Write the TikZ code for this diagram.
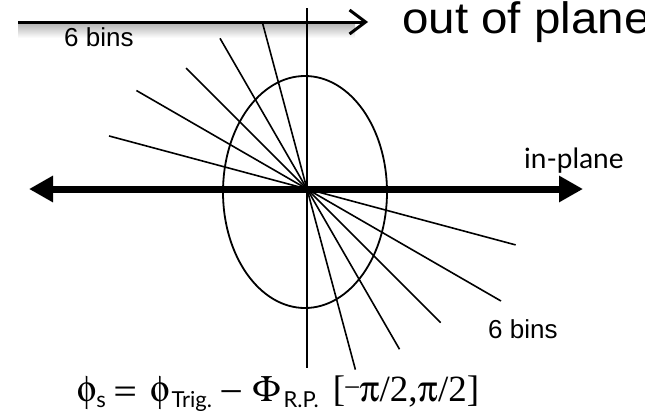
\documentclass[tikz,border=0pt]{standalone}
\usepackage{fontspec}
\usepackage{graphicx}
\setmainfont{Liberation Serif}
\newfontfamily\arialfont{Liberation Sans}
\newfontfamily\gillfont{Lato}
\usetikzlibrary{arrows.meta}

\newcommand{\symb}[1]{{\usefont{U}{psy}{m}{n}#1}}
\newcommand{\subgill}[1]{\raisebox{-6pt}{\gillfont\fontsize{22}{22}\selectfont #1}}

\begin{document}
\begin{tikzpicture}[x=1pt,y=-1pt,
    thinline/.style={line width=1.6pt},
    lbl/.style={inner sep=0pt, anchor=base west}]
    \useasboundingbox (0,0) rectangle (645,418);

    % Center of the bins
    \coordinate (O) at (307,189);

    % Out of plane arrow, with its shadow
    \coordinate (outStart) at (18,22);
    \coordinate (outEnd) at (368,22);
    \shade[top color=black!30, bottom color=white] (18,23) rectangle (355,38);
    \draw[line width=3pt, -{Straight Barb[length=16pt,width=24pt]}] (outStart) -- (outEnd);
    \node[lbl, font=\arialfont\fontsize{44}{44}\selectfont] (outLbl) at (402,33) {\scalebox{1.08}[1]{out of plane}};

    % In-plane arrow
    \coordinate (inLeft) at (29,189);
    \coordinate (inRight) at (583,189);
    \draw[line width=7pt, {Triangle[length=24pt,width=25pt]}-{Triangle[length=24pt,width=25pt]}] (inLeft) -- (inRight);
    \node[lbl, font=\gillfont\fontsize{28}{28}\selectfont] (inLbl) at (524,168) {in-plane};

    % Vertical axis
    \coordinate (vTop) at (307,8);
    \coordinate (vBot) at (307,368);
    \draw[thinline] (vTop) -- (vBot);

    % Ellipse
    \draw[line width=1.8pt] (305,192) ellipse [x radius=82, y radius=116];

    % Bin edges, 15 degrees apart
    \foreach \a/\r in {105/171,120/174,135/171,150/197,165/205,-15/216,-30/224,-45/189,-60/185,-75/187} {
        \draw[thinline] (O) -- ++(\a:\r pt);
    }

    % Bin labels
    \node[lbl, font=\arialfont\fontsize{26}{26}\selectfont] (binsTop) at (64,46) {6 bins};
    \node[lbl, font=\arialfont\fontsize{26}{26}\selectfont] (binsBot) at (488,338) {6 bins};

    % Definition of phi_s
    \node[lbl, font=\fontsize{37}{37}\selectfont] (formula) at (77,401)
        {\symb{f}\subgill{s}\hspace{9pt}\symb{=}\hspace{15pt}\symb{f}\hspace{2pt}\subgill{Trig.}\hspace{9pt}\symb{-}\hspace{11pt}\symb{F}\hspace{3pt}\subgill{R.P.}\hspace{14pt}[\raisebox{7pt}{\fontsize{26}{26}\symb{-}}\symb{p}/2,\symb{p}/2]};
\end{tikzpicture}
\end{document}
